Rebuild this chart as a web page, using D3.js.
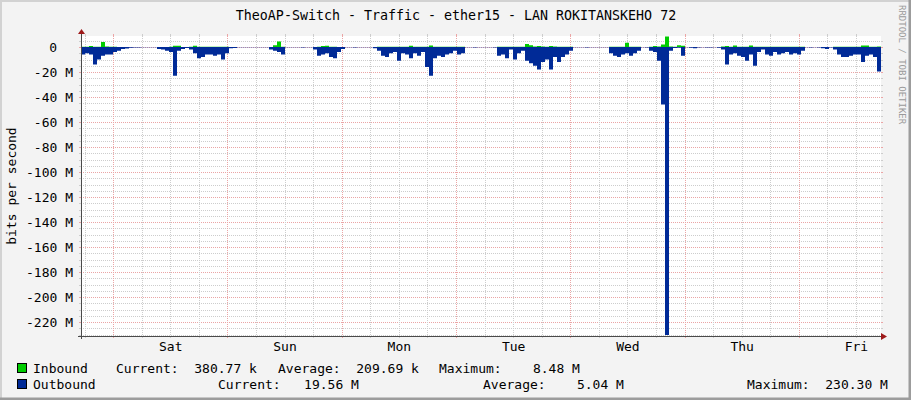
<!DOCTYPE html>
<html><head><meta charset="utf-8">
<script src="https://cdn.jsdelivr.net/npm/d3@7"></script>
<style>
body{margin:0;background:#f3f3f3}
svg text{font-family:"DejaVu Sans Mono",monospace;white-space:pre}
</style>
</head><body>
<svg id="c" width="911" height="400"></svg>
<script>
const title = "TheoAP-Switch - Traffic - ether15 - LAN ROKITANSKEHO 72";
const yAxisTitle = "bits per second";
const watermark = "RRDTOOL / TOBI OETIKER";
const dayLabels = ["Sat","Sun","Mon","Tue","Wed","Thu","Fri"];
const yTickValues = [0,-20,-40,-60,-80,-100,-120,-140,-160,-180,-200,-220]; // M
const seriesNames = ["Inbound","Outbound"];
const seriesColors = ["#00cc00","#002a97"];
const legendInbound = ["Current:  380.77 k","Average:  209.69 k","Maximum:    8.48 M"];
const legendOutbound = ["Current:   19.56 M","Average:    5.04 M","Maximum:  230.30 M"];

// values in Mbit/s, one sample every 50.4 minutes over one week (Fri 17:09 -> Fri 17:09)
const inbound = [
0.15,0.15,0.8,0.15,0.15,4,0.5,0.15,0.15,0.1,
0.05,0.05,0.05,0.05,0.05,0.05,0.05,0.05,0.05,0.1,
0.1,0.1,0.15,1,1,0.1,0.05,0.15,1,0.15,
0.15,0.15,0.15,0.15,0.15,0.15,0.15,0.05,0.05,0.05,
0.05,0.05,0.05,0.05,0.05,0.05,0.05,0.1,1.5,4.5,
0.15,0.05,0.05,0.05,0.05,0.05,0.05,0.05,0.1,0.15,
0.8,1,0.15,0.15,0.1,0.05,0.05,0.05,0.05,0.05,
0.05,0.05,0.05,0.05,0.15,0.15,0.15,0.15,0.15,0.15,
0.15,0.15,1,0.15,0.15,0.15,0.15,1.2,0.15,0.15,
0.15,0.15,0.15,0.15,0.15,0.15,0.05,0.05,0.05,0.05,
0.05,0.05,0.05,0.05,0.15,0.15,0.15,0.15,0.15,0.15,
0.15,2.5,1.5,0.5,0.8,0.5,0.15,0.8,0.5,0.15,
0.15,0.15,0.15,0.05,0.05,0.05,0.05,0.05,0.05,0.05,
0.05,0.05,0.15,0.15,0.15,0.15,3.5,0.15,0.15,0.15,
0.05,0.05,0.15,0.8,0.5,2,8.48,0.5,0.15,1.5,
1,0.05,0.05,0.05,0.05,0.05,0.05,0.05,0.05,0.05,
0.5,0.8,0.2,1.2,0.2,0.15,0.15,1.2,0.15,0.15,
0.15,0.15,0.15,0.15,0.15,0.15,0.15,0.15,0.15,0.15,
0.15,0.05,0.05,0.05,0.05,0.05,0.05,0.05,0.15,0.15,
0.15,0.15,0.15,0.15,0.15,1.2,1.2,0.15,0.15,0.38];

const outbound = [
6,5,6,14,10,7,6,6,4,3,
1.5,1.2,0.5,0.4,0.3,0.1,0.2,0.1,0.2,1.5,
2,3,4,23,3,1.5,0.8,2,5,9,
8,6,6,7,6,10,5,1,0.8,0.1,
0.1,0.2,0.1,0.1,0.2,0.1,0.1,2,3,4,
6,0.2,0.1,0.2,0.1,0.3,0.1,0.2,2,7,
6,5,8,9,4,1.5,0.2,0.1,0.3,0.1,
0.2,0.1,0.2,1,3,7,8,5,4,11,
5,6,9,5,7,4,16,23,9,7,
8,6,5,3,6,5,0.2,0.1,0.3,0.1,
0.1,0.2,0.1,0.3,7,6,9,2,10,5,
3,11,13,15,18,12,10,18,8,12,
8,6,3,0.2,0.1,0.1,0.3,0.1,0.2,0.1,
0.2,0.1,5,7,8,6,5,7,5,3,
0.2,0.3,3,4,11,46,230.3,3,0.8,0.5,
7,0.2,0.5,1,0.3,0.2,0.4,0.3,0.2,0.5,
2,14,6,5,7,8,11,6,15,4,
2,6,7,4,6,5,4,6,5,6,
3,0.2,0.3,0.2,0.4,1,1.5,0.3,2,6,
8,8,7,6,6,12,7,6,8,19.56];

const svg = d3.select("#c");
const W = 911, H = 400;
const L = 81, R = 881, T = 36, B = 336;

const start = new Date(2024, 1, 9, 17, 9);
const end = new Date(start.getTime() + 7 * 24 * 3600e3);
const step = (end - start) / inbound.length;

const x = d3.scaleTime().domain([start, end]).range([L, R]);
const y = d3.scaleLinear().domain([-231.2, 8.8]).range([B, T]);

// background & frame
svg.append("rect").attr("x",0).attr("y",0).attr("width",W).attr("height",H).attr("fill","#f3f3f3");
svg.append("path").attr("d",`M0,${H} V0 H${W}`).attr("fill","none").attr("stroke","#d2d2d2").attr("stroke-width",4);
svg.append("path").attr("d",`M${W},0 V${H} H0`).attr("fill","none").attr("stroke","#9c9c9c").attr("stroke-width",5);
svg.append("rect").attr("x",L).attr("y",T).attr("width",R-L).attr("height",B-T).attr("fill","#ffffff");

const gridCol = "#cdcdcd", mgridCol = "#eba5a5";
const g = svg.append("g");

// horizontal grid
const hVals = d3.range(5, -231, -5);
hVals.forEach(v => {
  const major = v % 20 === 0;
  const yy = Math.round(y(v)) + 0.5;
  const col = major ? mgridCol : gridCol;
  g.append("line").attr("x1",L).attr("x2",R).attr("y1",yy).attr("y2",yy)
    .attr("stroke",col).attr("stroke-dasharray","1,1");
  g.append("line").attr("x1",L-2).attr("x2",L).attr("y1",yy).attr("y2",yy).attr("stroke",col);
  g.append("line").attr("x1",R).attr("x2",R+2).attr("y1",yy).attr("y2",yy).attr("stroke",col);
});

// vertical grid
const sixH = d3.timeHour.every(6).range(start, end);
sixH.forEach(t => {
  const major = t.getHours() === 0;
  const xx = Math.floor(x(t)) + 0.5;
  const col = major ? mgridCol : gridCol;
  g.append("line").attr("x1",xx).attr("x2",xx).attr("y1",T).attr("y2",B)
    .attr("stroke",col).attr("stroke-dasharray","1,1");
  g.append("line").attr("x1",xx).attr("x2",xx).attr("y1",B).attr("y2",B+2).attr("stroke",col);
  g.append("line").attr("x1",xx).attr("x2",xx).attr("y1",T-2).attr("y2",T).attr("stroke",col);
});

// data areas
const pts = arr => {
  const p = arr.map((v,i) => ({t: new Date(start.getTime() + i*step), v}));
  p.push({t: end, v: arr[arr.length-1]});
  return p;
};
const areaIn = d3.area().curve(d3.curveStepAfter)
  .x(d => x(d.t)).y0(y(0)).y1(d => y(d.v));
const areaOut = d3.area().curve(d3.curveStepAfter)
  .x(d => x(d.t)).y0(y(0)).y1(d => y(-d.v));
svg.append("path").datum(pts(inbound)).attr("d",areaIn).attr("fill",seriesColors[0]);
svg.append("path").datum(pts(outbound)).attr("d",areaOut).attr("fill",seriesColors[1]);

// axes
const axCol = "#4a4a4a", arCol = "#9e1a1a";
svg.append("line").attr("x1",L+0.5).attr("x2",L+0.5).attr("y1",B+3).attr("y2",T-4).attr("stroke",axCol);
svg.append("line").attr("x1",L-3).attr("x2",R+2).attr("y1",B+0.5).attr("y2",B+0.5).attr("stroke",axCol);
svg.append("path").attr("d",`M${L-3},${T-2} L${L+4},${T-2} L${L+0.5},${T-7} Z`).attr("fill",arCol);
svg.append("path").attr("d",`M${R},${B-3} L${R},${B+4} L${R+6},${B+0.5} Z`).attr("fill",arCol);

// y tick labels
yTickValues.forEach(v => {
  svg.append("text")
    .attr("x", v === 0 ? 57 : 73)
    .attr("y", y(v) + 5)
    .attr("text-anchor","end")
    .attr("font-size",13).attr("fill","#000")
    .text(v === 0 ? "0" : v + " M");
});

// x labels at noon
const noons = d3.timeHour.range(start, end).filter(t => t.getHours() === 12);
noons.forEach((t,i) => {
  svg.append("text").attr("x", x(t)).attr("y", 351)
    .attr("text-anchor","middle").attr("font-size",13).attr("fill","#000")
    .text(dayLabels[i]);
});

// title
svg.append("text").attr("x", 456).attr("y", 20).attr("text-anchor","middle")
  .attr("font-size",13.3).attr("fill","#000").text(title);

// y axis title
svg.append("text").attr("transform","translate(16,186) rotate(-90)")
  .attr("text-anchor","middle").attr("font-size",13).attr("fill","#000").text(yAxisTitle);

// watermark
svg.append("text").attr("transform","translate(899,5) rotate(90)")
  .attr("text-anchor","start").attr("font-size",9).attr("fill","#9a9a9a").text(watermark);

// legend
const rows = [
  {name: seriesNames[0], col: seriesColors[0], y: 373, items: legendInbound, xs: [116,278,439]},
  {name: seriesNames[1], col: seriesColors[1], y: 389, items: legendOutbound, xs: [218,483,747]}
];
rows.forEach(r => {
  svg.append("rect").attr("x",17.5).attr("y",r.y-9.5).attr("width",9).attr("height",9)
    .attr("fill",r.col).attr("stroke","#000");
  svg.append("text").attr("x",33).attr("y",r.y).attr("font-size",13).attr("fill","#000").text(r.name);
  r.items.forEach((s,i) => {
    svg.append("text").attr("x",r.xs[i]).attr("y",r.y).attr("font-size",13).attr("fill","#000").text(s);
  });
});
</script>
</body></html>
